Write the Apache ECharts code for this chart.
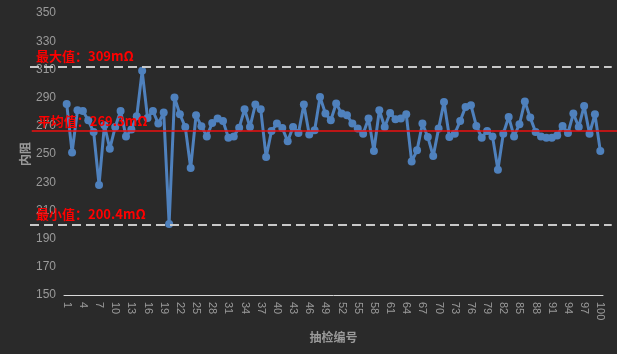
<!DOCTYPE html>
<html>
<head>
<meta charset="utf-8">
<script src="https://cdn.jsdelivr.net/npm/echarts/dist/echarts.min.js"></script>
<style>
  html, body { margin: 0; padding: 0; background: #2a2a2a; }
  #chart { width: 617px; height: 354px; }
</style>
</head>
<body>
<div id="chart"></div>
<script>
// 抽检编号 1..100
var categories = [];
for (var n = 1; n <= 100; n++) categories.push(String(n));

// 内阻 (mΩ)
var values = [
  285.5, 251.1, 281.0, 280.5, 273.9, 265.6, 228.1, 270.4, 253.8, 269.1,
  280.5, 262.5, 267.3, 276.8, 309.0, 275.6, 280.5, 271.6, 279.4, 200.4,
  290.1, 278.2, 269.1, 240.0, 277.5, 269.6, 262.5, 272.0, 275.1, 273.4,
  261.6, 262.5, 268.7, 281.7, 269.1, 285.1, 281.7, 247.8, 266.3, 271.6,
  268.4, 259.0, 269.1, 264.9, 285.1, 263.9, 266.8, 290.5, 278.7, 273.9,
  285.8, 278.7, 277.5, 271.6, 268.0, 264.4, 275.1, 252.1, 281.0, 269.1,
  279.1, 274.6, 275.1, 278.2, 244.7, 252.6, 271.6, 262.0, 248.5, 268.0,
  286.9, 262.0, 264.4, 273.4, 283.4, 284.6, 269.9, 261.6, 266.3, 262.5,
  238.8, 264.4, 276.3, 262.5, 271.1, 287.2, 275.8, 265.6, 262.5, 261.6,
  261.6, 263.2, 269.9, 264.9, 278.7, 269.1, 284.1, 264.4, 278.2, 252.1
];

// reference lines as they sit in the picture, and their labels
var maxLine = 311.8, avgLine = 266.2, minLine = 200.1;
var maxText = "最大值：309mΩ";
var avgText = "平均值：269.3mΩ";
var minText = "最小值：200.4mΩ";

var yMin = 150, yMax = 350, yStep = 20;

var chart = echarts.init(document.getElementById("chart"));

var refLabel = {
  show: true,
  position: "insideStartTop",
  distance: [6, 4],
  color: "#ff0000",
  fontSize: 13,
  fontWeight: "bold",
  fontFamily: "Noto Sans CJK SC"
};
var dashStyle = { color: "#c8c8c8", width: 2, type: [9, 5] };

chart.setOption({
  animation: false,
  backgroundColor: "#2a2a2a",
  grid: [
    { left: 64, right: 14, top: 13, bottom: 59 },
    { left: 30, right: 0, top: 13, bottom: 59 }
  ],
  xAxis: [
    {
      type: "category",
      gridIndex: 0,
      data: categories,
      boundaryGap: true,
      name: "抽检编号",
      nameLocation: "middle",
      nameGap: 36,
      nameTextStyle: { color: "#9a9a9a", fontSize: 12, fontWeight: "bold", fontFamily: "Noto Sans CJK SC" },
      axisLine: { lineStyle: { color: "#d9d9d9", width: 1 } },
      axisTick: { show: false },
      axisLabel: {
        interval: 2,
        rotate: -90,
        margin: 7,
        color: "#9a9a9a",
        fontSize: 11,
        fontFamily: "Liberation Sans"
      },
      splitLine: { show: false }
    },
    {
      type: "value",
      gridIndex: 1,
      min: 0,
      max: 100,
      show: false
    }
  ],
  yAxis: [
    {
      type: "value",
      gridIndex: 0,
      min: yMin,
      max: yMax,
      interval: yStep,
      name: "内阻",
      nameLocation: "middle",
      nameGap: 33,
      nameMoveOverlap: false,
      nameTextStyle: { color: "#9a9a9a", fontSize: 12, fontWeight: "bold", fontFamily: "Noto Sans CJK SC" },
      axisLine: { show: false },
      axisTick: { show: false },
      splitLine: { show: false },
      axisLabel: {
        margin: 8,
        color: "#9a9a9a",
        fontSize: 12,
        fontFamily: "Liberation Sans"
      }
    },
    {
      type: "value",
      gridIndex: 1,
      min: yMin,
      max: yMax,
      show: false
    }
  ],
  series: [
    {
      // dashed max / min lines, under the data
      type: "line",
      xAxisIndex: 1,
      yAxisIndex: 1,
      data: [],
      silent: true,
      z: 1,
      markLine: {
        silent: true,
        symbol: ["none", "none"],
        data: [
          [
            { coord: [0, maxLine], lineStyle: dashStyle, label: refLabel, name: maxText },
            { coord: [99.1, maxLine] }
          ],
          [
            { coord: [0, minLine], lineStyle: dashStyle, label: refLabel, name: minText },
            { coord: [99.1, minLine] }
          ]
        ],
        label: { formatter: "{b}" }
      }
    },
    {
      type: "line",
      xAxisIndex: 0,
      yAxisIndex: 0,
      data: values,
      symbol: "circle",
      symbolSize: 8,
      showAllSymbol: true,
      z: 2,
      itemStyle: { color: "#4f81bd" },
      lineStyle: { color: "#4f81bd", width: 3 }
    },
    {
      // average line, over the data
      type: "line",
      xAxisIndex: 1,
      yAxisIndex: 1,
      data: [],
      silent: true,
      z: 3,
      markLine: {
        silent: true,
        symbol: ["none", "none"],
        data: [
          [
            { coord: [0.3, avgLine], lineStyle: { color: "#ee1111", width: 1.5, type: "solid" }, label: refLabel, name: avgText },
            { coord: [100, avgLine] }
          ]
        ],
        label: { formatter: "{b}" }
      }
    }
  ]
});
</script>
</body>
</html>
